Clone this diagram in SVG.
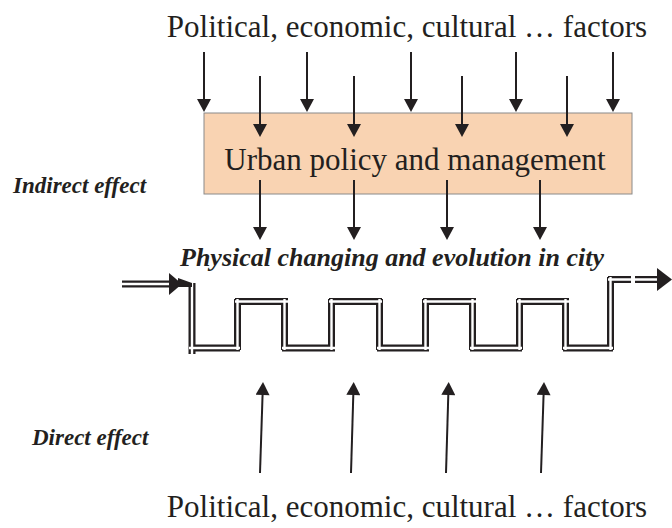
<svg xmlns="http://www.w3.org/2000/svg" xmlns:xlink="http://www.w3.org/1999/xlink" width="672" height="528" viewBox="0 0 672 528">
  <style>
    .t { font-family: "Liberation Serif", "Times New Roman", serif; fill: #231f20; }
    .big { font-size: 31px; }
    .bi { font-size: 26px; font-weight: bold; font-style: italic; }
    .lab { font-size: 23px; font-weight: bold; font-style: italic; }
    .arr { stroke: #231f20; stroke-width: 2; fill: none; marker-end: url(#ah); }
    .dblo { stroke: #231f20; stroke-width: 7; fill: none; }
    .dbli { stroke: #ffffff; stroke-width: 2.4; fill: none; }
    .head { fill: #231f20; }
  </style>
  <defs>
    <marker id="ah" markerUnits="userSpaceOnUse" markerWidth="14" markerHeight="14" viewBox="0 0 13 14" refX="7" refY="7" orient="auto">
      <path d="M0,0 L13,7 L0,14 Z" fill="#231f20"/>
    </marker>
    <path id="wave" d="M192,283 V354 M189,348 H240 M237.5,350 V299 M235,301.5 H288 M284.5,299 V350 M282,348 H335 M331.5,350 V299 M329,301.5 H382 M379.5,299 V350 M377,348 H429 M425.5,350 V299 M423,301.5 H476 M472.5,299 V350 M470,348 H522 M519.5,350 V299 M517,301.5 H569 M565.5,299 V350 M563,348 H613 M610.5,350 V277 M608,279.5 H631 M635,279.5 H658"/>
    <path id="inline" d="M122,284 H171"/>
  </defs>

  <g id="top-factors">
    <text class="t big" x="407" y="37" text-anchor="middle">Political, economic, cultural … factors</text>
  </g>

  <g id="policy-box">
    <rect x="204" y="113" width="428" height="81" fill="#f9d3b2" stroke="#8a8a8a" stroke-width="1"/>
    <text class="t big" x="415" y="170" text-anchor="middle">Urban policy and management</text>
  </g>

  <g id="indirect-label">
    <text class="t lab" x="13" y="193">Indirect effect</text>
  </g>

  <g id="physical-label">
    <text class="t bi" x="392" y="266" text-anchor="middle">Physical changing and evolution in city</text>
  </g>

  <g id="direct-label">
    <text class="t lab" x="32" y="445">Direct effect</text>
  </g>

  <g id="bottom-factors">
    <text class="t big" x="407" y="517" text-anchor="middle">Political, economic, cultural … factors</text>
  </g>

  <g id="evolution-wave">
    <use xlink:href="#wave" class="dblo"/>
    <use xlink:href="#wave" class="dbli"/>
    <use xlink:href="#inline" class="dblo"/>
    <use xlink:href="#inline" class="dbli"/>
    <polygon class="head" points="169,273 182,284 169,295"/>
    <polygon class="head" points="178,278 192,283 192,287 178,287"/>
    <polygon class="head" points="657,268 672,279.5 657,291"/>
  </g>

  <g id="connectors">
    <line class="arr" x1="204" y1="52" x2="204" y2="106"/>
    <line class="arr" x1="307" y1="52" x2="307" y2="106"/>
    <line class="arr" x1="411" y1="52" x2="411" y2="106"/>
    <line class="arr" x1="516" y1="52" x2="516" y2="106"/>
    <line class="arr" x1="613" y1="52" x2="613" y2="106"/>

    <line class="arr" x1="260" y1="76" x2="260" y2="131"/>
    <line class="arr" x1="354" y1="76" x2="354" y2="131"/>
    <line class="arr" x1="462" y1="76" x2="462" y2="131"/>
    <line class="arr" x1="567" y1="76" x2="567" y2="131"/>

    <line class="arr" x1="260" y1="180" x2="260" y2="234"/>
    <line class="arr" x1="354" y1="180" x2="354" y2="234"/>
    <line class="arr" x1="447" y1="180" x2="447" y2="234"/>
    <line class="arr" x1="540" y1="180" x2="540" y2="234"/>

    <line class="arr" x1="260" y1="473" x2="262.8" y2="388"/>
    <line class="arr" x1="351" y1="473" x2="353.5" y2="388"/>
    <line class="arr" x1="446" y1="473" x2="448.5" y2="388"/>
    <line class="arr" x1="541" y1="473" x2="543.8" y2="388"/>
  </g>
</svg>
